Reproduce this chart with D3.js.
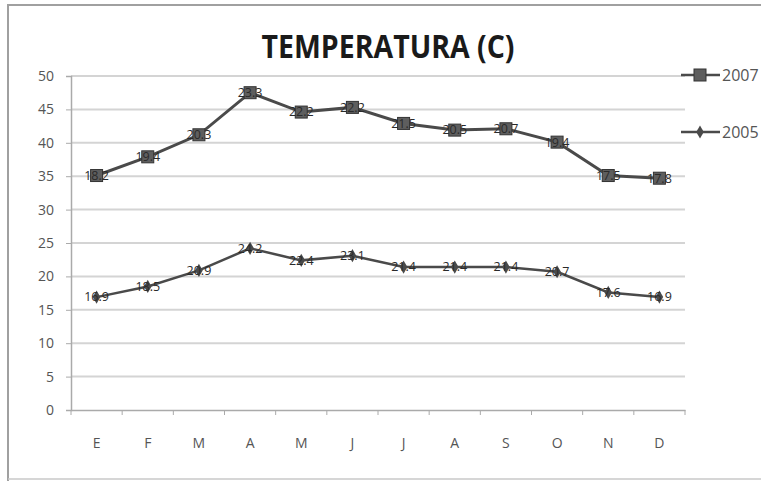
<!DOCTYPE html>
<html><head><meta charset="utf-8">
<script src="https://cdn.jsdelivr.net/npm/d3@7"></script>
<style>body{margin:0;background:#fff;overflow:hidden}svg{display:block}</style>
</head><body>
<svg id="c" width="761" height="481"></svg>
<script>
const months = ["E","F","M","A","M","J","J","A","S","O","N","D"];
const series2005 = [16.9, 18.5, 20.9, 24.2, 22.4, 23.1, 21.4, 21.4, 21.4, 20.7, 17.6, 16.9];
const series2007 = [18.2, 19.4, 20.3, 23.3, 22.2, 22.2, 21.5, 20.5, 20.7, 19.4, 17.5, 17.8];
const yTicks = [0,5,10,15,20,25,30,35,40,45,50];
const title = "TEMPERATURA (C)";

const svg = d3.select("#c");
const rows = months.map((m,i)=>({i, m, s2005: series2005[i], s2007: series2007[i]}));
const stacked = d3.stack().keys(["s2005","s2007"])(rows);

const x = d3.scaleBand().domain(d3.range(months.length)).range([71,685]);
const y = d3.scaleLinear().domain([0,50]).range([410,76]);
const cx = i => x(i) + x.bandwidth()/2;

// outer border
svg.append("path").attr("d","M8,481 V5 H761").attr("fill","none").attr("stroke","#a0a0a0").attr("stroke-width",2);
svg.append("line").attr("x1",8).attr("x2",761).attr("y1",479).attr("y2",479).attr("stroke","#c8c8c8").attr("stroke-width",1.5);

// title
svg.append("text").attr("x",388).attr("y",58).attr("text-anchor","middle")
  .attr("font-family","Open Sans, sans-serif").attr("font-weight","bold").attr("font-size",33)
  .attr("textLength",253).attr("lengthAdjust","spacingAndGlyphs").attr("fill","#1a1a1a").text(title);

// gridlines
svg.append("g").selectAll("line").data(yTicks.filter(d=>d>0)).join("line")
  .attr("x1",71).attr("x2",685).attr("y1",d=>y(d)).attr("y2",d=>y(d))
  .attr("stroke","#d4d4d4").attr("stroke-width",2);

// y axis
const ya = svg.append("g").attr("transform","translate(71,0)")
  .call(d3.axisLeft(y).tickValues(yTicks).tickSize(5).tickPadding(12));
ya.select(".domain").attr("stroke","#aaa").attr("stroke-width",1.5);
ya.selectAll(".tick line").attr("stroke","#aaa");
ya.selectAll("text").attr("font-family","Open Sans, sans-serif").attr("font-size",14).attr("fill","#555");

// x axis
const xa = svg.append("g").attr("transform","translate(0,410)")
  .call(d3.axisBottom(x).tickFormat(i=>months[i]).tickSize(0).tickPadding(28));
xa.select(".domain").attr("stroke","#aaa").attr("stroke-width",1.5);
xa.selectAll("text").attr("font-family","Open Sans, sans-serif").attr("font-size",14).attr("fill","#555");
svg.append("g").selectAll("line").data(d3.range(months.length+1)).join("line")
  .attr("x1",i=>71+i*x.step()).attr("x2",i=>71+i*x.step()).attr("y1",410).attr("y2",415)
  .attr("stroke","#aaa");

const line = d3.line().x((d,i)=>cx(i)).y(d=>y(d[1]));
const colors = ["#4a4a4a","#4a4a4a"];

stacked.forEach((s,k)=>{
  svg.append("path").datum(s).attr("d",line).attr("fill","none")
    .attr("stroke",colors[k]).attr("stroke-width",k===1?3:2.5);
  const g = svg.append("g");
  if(k===1){
    g.selectAll("rect").data(s).join("rect")
      .attr("x",(d,i)=>cx(i)-6).attr("y",d=>y(d[1])-6).attr("width",12).attr("height",12)
      .attr("fill","#5e5e5e").attr("stroke","#333").attr("stroke-width",1);
  } else {
    g.selectAll("path").data(s).join("path")
      .attr("d",d3.symbol(d3.symbolDiamond,50))
      .attr("transform",(d,i)=>`translate(${cx(i)},${y(d[1])})`)
      .attr("fill","#4a4a4a");
  }
  svg.append("g").selectAll("text").data(s).join("text")
    .attr("x",(d,i)=>cx(i)).attr("y",d=>y(d[1])).attr("dy","0.35em")
    .attr("text-anchor","middle").attr("font-family","Open Sans, sans-serif").attr("font-size",12.5)
    .attr("fill","#2a2a2a").text(d=>(d[1]-d[0]).toFixed(1));
});

// legend
const leg = [{name:"2007", y:75, k:1},{name:"2005", y:132, k:0}];
leg.forEach(l=>{
  svg.append("line").attr("x1",681).attr("x2",720).attr("y1",l.y).attr("y2",l.y)
    .attr("stroke","#4a4a4a").attr("stroke-width",2.5);
  if(l.k===1){
    svg.append("rect").attr("x",694).attr("y",l.y-6).attr("width",12).attr("height",12)
      .attr("fill","#5e5e5e").attr("stroke","#333");
  } else {
    svg.append("path").attr("d",d3.symbol(d3.symbolDiamond,50)).attr("transform",`translate(700,${l.y})`).attr("fill","#4a4a4a");
  }
  svg.append("text").attr("x",722).attr("y",l.y).attr("dy","0.35em")
    .attr("font-family","Open Sans, sans-serif").attr("font-size",16).attr("fill","#555").text(l.name);
});
</script>
</body></html>
